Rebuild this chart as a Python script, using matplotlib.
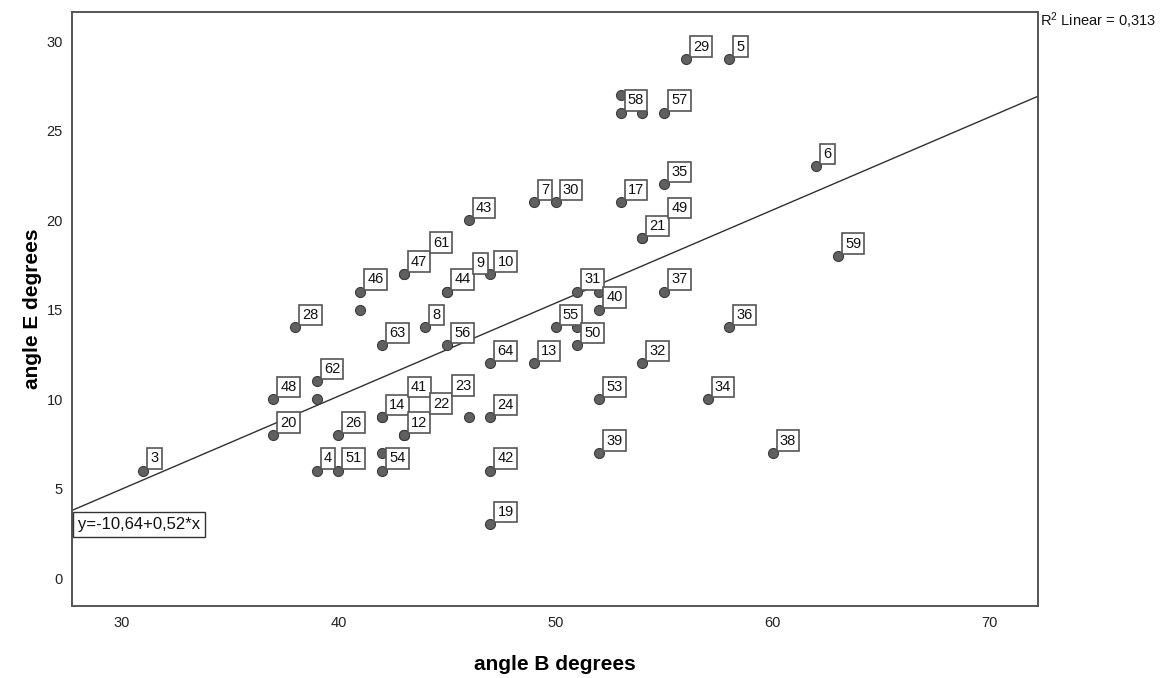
import matplotlib
matplotlib.use("Agg")
import matplotlib.pyplot as plt
import numpy as np

plt.rcParams['font.family'] = ['Liberation Sans', 'DejaVu Sans']
plt.rcParams['mathtext.fontset'] = 'custom'
plt.rcParams['mathtext.rm'] = 'Liberation Sans'
plt.rcParams['mathtext.default'] = 'regular'

# case labels ('' = label hidden in the original because of overlap)
case_labels = ['3', '4', '51', '54', '', '20', '48', '62', '', '26',
               '28', '46', '', '63', '14', '41', '12', '22', '23', '47',
               '61', '8', '44', '9', '56', '43', '', '10', '64', '24',
               '42', '19', '13', '7', '30', '55', '31', '', '50', '',
               '40', '53', '39', '17', '58', '', '', '21', '49', '32',
               '57', '35', '37', '29', '34', '5', '36', '38', '6', '59']
angle_b = [31, 39, 40, 42, 42, 37, 37, 39, 39, 40,
           38, 41, 41, 42, 42, 42, 43, 43, 43, 43,
           43, 44, 45, 45, 45, 46, 46, 47, 47, 47,
           47, 47, 49, 49, 50, 50, 51, 51, 51, 52,
           52, 52, 52, 53, 53, 53, 54, 54, 54, 54,
           55, 55, 55, 56, 57, 58, 58, 60, 62, 63]
angle_e = [6, 6, 6, 6, 7, 8, 10, 11, 10, 8,
           14, 16, 15, 13, 9, 9, 8, 8, 8, 17,
           17, 14, 16, 16, 13, 20, 9, 17, 12, 9,
           6, 3, 12, 21, 21, 14, 16, 14, 13, 16,
           15, 10, 7, 21, 26, 27, 26, 19, 19, 12,
           26, 22, 16, 29, 10, 29, 14, 7, 23, 18]

# fit line as printed on the chart
intercept = -10.64
slope = 0.52
r2_linear = 0.313

x_ticks = [30, 40, 50, 60, 70]
y_ticks = [0, 5, 10, 15, 20, 25, 30]

# labels that SPSS pushed away from their point (pixel offsets of box corner)
label_shift = {'9': (26, 18), '61': (26, 21), '49': (26, 20),
               '41': (26, 20), '22': (26, 21), '23': (48, 39)}

fig = plt.figure(figsize=(11.72, 6.78), dpi=100)
ax = fig.add_axes([72 / 1172, 1 - 606 / 678, 966 / 1172, 594 / 678])
ax.set_xlim(27.73, 72.22)
ax.set_ylim(-1.56, 31.62)

# regression line
xs = np.array(ax.get_xlim())
ax.plot(xs, intercept + slope * xs, color='#303030', lw=1.0, zorder=2)

ax.scatter(angle_b, angle_e, s=52, facecolor='#606060', edgecolor='#3c3c3c',
           linewidths=0.8, zorder=3)

px = 72 / 100  # pixels -> points
lab_size = 10.5
lab_pad = 0.22
pad_px = lab_pad * lab_size / px
for lab, xv, yv in zip(case_labels, angle_b, angle_e):
    if not lab:
        continue
    dx, dy = label_shift.get(lab, (4, 2))
    ax.annotate(lab, (xv, yv), xytext=((dx + pad_px) * px, (dy + pad_px) * px),
                textcoords='offset points', ha='left', va='bottom',
                fontsize=lab_size, color='#111111', zorder=4,
                bbox=dict(boxstyle=f'square,pad={lab_pad}', fc='white',
                          ec='#555555', lw=1.2))

# equation box at the left end of the line
x0 = ax.get_xlim()[0]
ax.annotate(f"y={intercept:.2f}+{slope:.2f}*x".replace('.', ','),
            (x0, intercept + slope * x0), xytext=(4, -4.5),
            textcoords='offset points', ha='left', va='top',
            fontsize=12, color='#111111', zorder=4,
            bbox=dict(boxstyle='square,pad=0.3', fc='white', ec='#333333', lw=1.0))

ax.text(1.002, 0.985, f"R$^{{2}}$ Linear = {r2_linear:.3f}".replace('.', ','),
        transform=ax.transAxes, ha='left', va='center', fontsize=10.5, color='#111111')

ax.set_xticks(x_ticks)
ax.set_yticks(y_ticks)
ax.tick_params(length=0, labelsize=10.5, labelcolor='#222222')
ax.tick_params(axis='x', pad=7.5)
ax.tick_params(axis='y', pad=6.5)
for sp in ax.spines.values():
    sp.set_color('#555555')
    sp.set_linewidth(1.4)

ax.set_xlabel('angle B degrees', fontsize=15, fontweight='bold', va='center')
ax.set_ylabel('angle E degrees', fontsize=15, fontweight='bold', va='center')
ax.xaxis.set_label_coords(0.5, -0.099)
ax.yaxis.set_label_coords(-0.041, 0.5)

fig.savefig('out.png', dpi=100)
